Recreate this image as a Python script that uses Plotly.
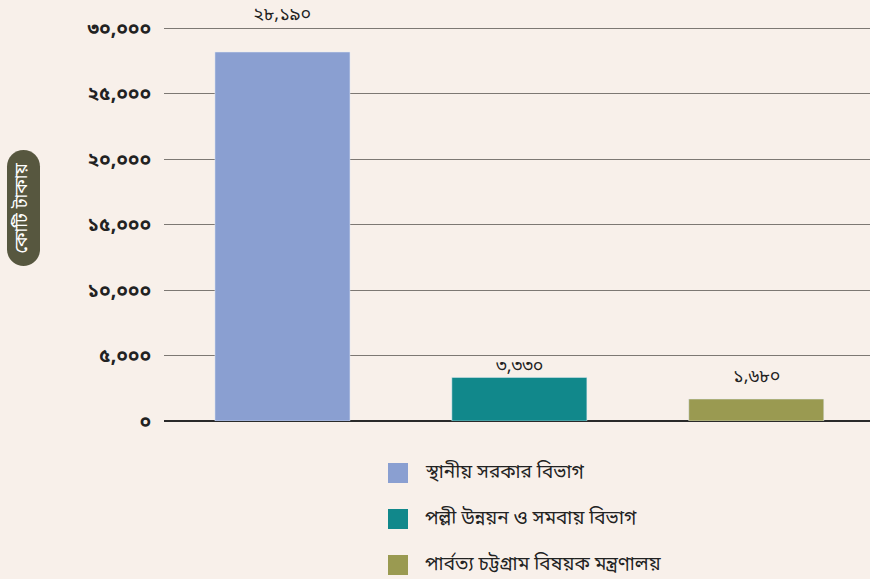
import plotly.graph_objects as go

categories = ["স্থানীয় সরকার বিভাগ", "পল্লী উন্নয়ন ও সমবায় বিভাগ", "পার্বত্য চট্টগ্রাম বিষয়ক মন্ত্রণালয়"]
values = [28190, 3330, 1680]
value_labels = ["২৮,১৯০", "৩,৩৩০", "১,৬৮০"]
colors = ["#8a9fd1", "#11888b", "#9a9a51"]
tick_vals = [0, 5000, 10000, 15000, 20000, 25000, 30000]
tick_text = ["০", "৫,০০০", "১০,০০০", "১৫,০০০", "২০,০০০", "২৫,০০০", "৩০,০০০"]
y_title = "কোটি টাকায়"

# style: vertical gap (px) between bar top and label centre, as in the reference
label_gap_px = [37, 10, 22]

W, H = 870, 579
YMAX = 30100
L, R, B = 164, 0, 158
PH = round(393 * YMAX / 30000)
T = H - B - PH
PW = W - L - R
FONT = "Noto Sans Bengali, Noto Serif Bengali, Lohit Bengali, Noto Sans, sans-serif"
BG = "#f8f0ea"

def px(x):
    return (x - L) / PW

def py(y):
    return (H - B - y) / PH

x_idx = list(range(len(categories)))
fig = go.Figure()
fig.add_trace(go.Bar(
    x=x_idx, y=values, marker_color=colors, width=0.57,
    showlegend=False, hoverinfo="y",
))

for i, (v, t, g) in enumerate(zip(values, value_labels, label_gap_px)):
    fig.add_annotation(x=i, y=v, text=t, showarrow=False, yanchor="middle",
                       yshift=g, font=dict(size=18, color="#222", family=FONT))

shapes = []
# manual legend
for k, (c, name) in enumerate(zip(colors, categories)):
    cy = 473 + k * 46
    shapes.append(dict(type="rect", xref="paper", yref="paper",
                       x0=px(388), x1=px(408), y0=py(cy - 10), y1=py(cy + 10),
                       fillcolor=c, line=dict(width=0)))
    fig.add_annotation(xref="paper", yref="paper", x=px(423), y=py(cy), text=name,
                       showarrow=False, xanchor="left", yanchor="middle",
                       font=dict(size=19, color="#222", family=FONT))

# rounded y-title badge
x0, x1, y0, y1 = 7, 40, 150, 266
r = (x1 - x0) / 2
k = 0.5523 * r
cx = (x0 + x1) / 2
def P(x, y):
    return f"{px(x):.5f},{py(y):.5f}"
path = (f"M{P(x0, y0 + r)} "
        f"C{P(x0, y0 + r - k)} {P(cx - k, y0)} {P(cx, y0)} "
        f"C{P(cx + k, y0)} {P(x1, y0 + r - k)} {P(x1, y0 + r)} "
        f"L{P(x1, y1 - r)} "
        f"C{P(x1, y1 - r + k)} {P(cx + k, y1)} {P(cx, y1)} "
        f"C{P(cx - k, y1)} {P(x0, y1 - r + k)} {P(x0, y1 - r)} Z")
shapes.append(dict(type="path", xref="paper", yref="paper", path=path,
                   fillcolor="#57573f", line=dict(width=0), layer="below"))
fig.add_annotation(xref="paper", yref="paper", x=px(cx), y=py((y0 + y1) / 2),
                   text=y_title, textangle=-90, showarrow=False, xshift=-16,
                   font=dict(size=18, color="white", family=FONT))

fig.update_layout(
    width=W, height=H,
    margin=dict(l=L, r=R, t=T, b=B),
    paper_bgcolor=BG, plot_bgcolor=BG,
    shapes=shapes,
    xaxis=dict(range=[-0.5, 2.48], showticklabels=False, showgrid=False,
               zeroline=False, fixedrange=True),
    yaxis=dict(range=[0, YMAX], tickvals=tick_vals, ticktext=tick_text,
               showgrid=True, gridcolor="#7d7873", gridwidth=1.3,
               zeroline=True, zerolinecolor="#2a2a2a", zerolinewidth=1.5,
               ticks="", ticklabelstandoff=12,
               tickfont=dict(size=19, color="#222", family=FONT, weight="bold")),
    font=dict(family=FONT),
)
fig.write_html("out.html", config={"displayModeBar": False},
               post_script="document.body.style.margin='0';document.body.style.overflow='hidden';document.body.style.background='" + BG + "';")
